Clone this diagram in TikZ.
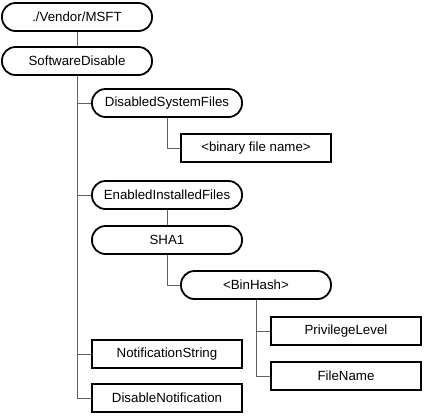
\documentclass[tikz,border=0pt]{standalone}
\usepackage{fontspec}
\setmainfont{Liberation Sans}
\begin{document}
\begin{tikzpicture}[x=1pt, y=-1pt,
    inner/.style={draw=black, line width=1.8pt, rounded corners=13.5pt,
        minimum width=150pt, minimum height=28pt, font=\fontsize{13.3}{15}\selectfont},
    leaf/.style={draw=black, line width=1.8pt,
        minimum width=150pt, minimum height=28pt, font=\fontsize{13.3}{15}\selectfont},
    link/.style={draw=black!62, line width=0.9pt}]
    \useasboundingbox (0,0) rectangle (424,416);
    \path (77,17) node[inner](V){./Vendor/MSFT}
        (77,61) node[inner](S){SoftwareDisable}
        (167,103) node[inner](D){DisabledSystemFiles}
        (256,148) node[leaf](B){<binary file name>}
        (167,195) node[inner](E){EnabledInstalledFiles}
        (167,240) node[inner](H){SHA1}
        (256,285) node[inner](BH){<BinHash>}
        (346,331) node[leaf](P){PrivilegeLevel}
        (346,376) node[leaf](F){FileName}
        (167,354) node[leaf](N){NotificationString}
        (167,398) node[leaf](DN){DisableNotification};
    \draw[link] (V) -- (S) (E) -- (H)
        (S.south) |- (D.west) (S.south) |- (E.west)
        (S.south) |- (N.west) (S.south) |- (DN.west)
        (D.south) |- (B.west) (H.south) |- (BH.west)
        (BH.south) |- (P.west) (BH.south) |- (F.west);
\end{tikzpicture}
\end{document}
